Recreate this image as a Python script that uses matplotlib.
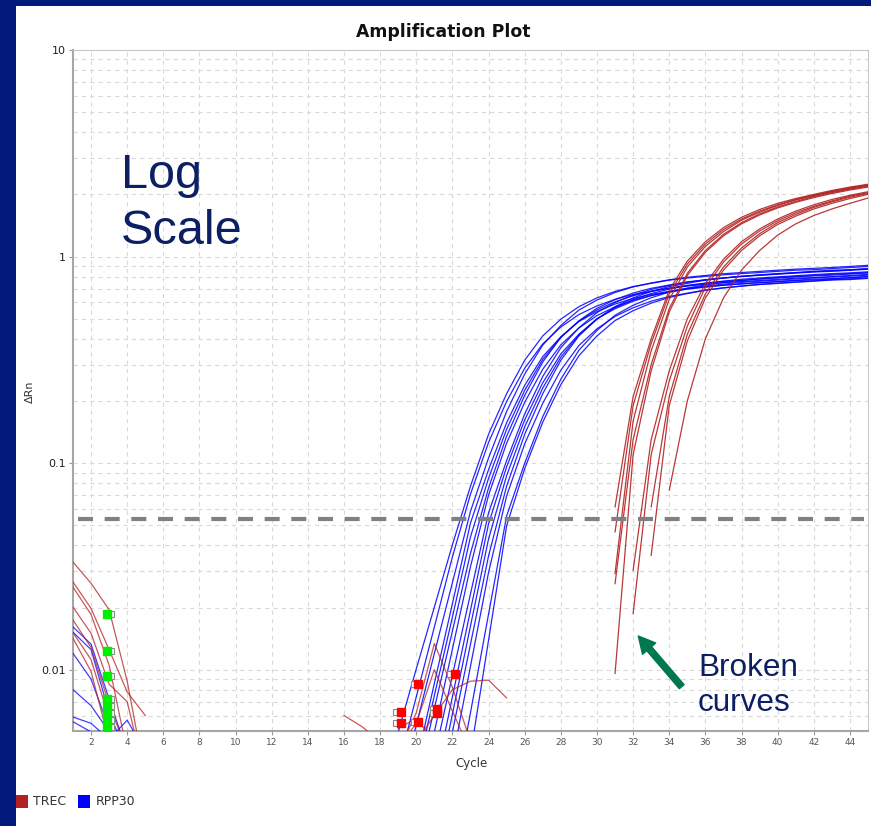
import numpy as np
import matplotlib
matplotlib.use("Agg")
from matplotlib import pyplot as plt
from matplotlib.patches import Rectangle, FancyArrowPatch

plt.rcParams['font.family'] = ['Liberation Sans', 'DejaVu Sans']
plt.rcParams['lines.scale_dashes'] = False

# RPP30 の増幅曲線 (サイクル 18〜45)
RPP30_CYCLES = list(range(18, 46))
RPP30 = [
    [.0025, .0050, .0101, .0201, .0403, .0774, .138, .217, .315, .413, .498, .572, .631, .678,
     .716, .742, .769, .787, .802, .816, .827, .837, .848, .859, .864, .875, .885, .896],
    [.0015, .0034, .0074, .0161, .0352, .0708, .126, .199, .288, .378, .456, .524, .577, .621,
     .655, .679, .703, .720, .734, .747, .757, .766, .776, .786, .791, .800, .810, .820],
    [.0011, .0025, .0054, .0120, .0264, .0585, .106, .178, .270, .373, .464, .551, .616, .670,
     .713, .745, .772, .794, .810, .826, .837, .848, .859, .869, .877, .886, .896, .907],
    [.0006, .0014, .0035, .0086, .0209, .0513, .0931, .157, .238, .328, .409, .485, .542, .589,
     .627, .656, .679, .698, .713, .727, .736, .746, .755, .765, .771, .779, .789, .798],
    [.0005, .0011, .0027, .0065, .0154, .0366, .0759, .135, .213, .309, .406, .489, .562, .619,
     .666, .702, .728, .754, .772, .787, .801, .811, .822, .832, .842, .848, .858, .868],
    [.0003, .0008, .0020, .0050, .0126, .0316, .0701, .125, .197, .285, .374, .451, .518, .571,
     .614, .648, .672, .696, .712, .727, .739, .749, .758, .768, .778, .782, .792, .802],
    [.0003, .0006, .0015, .0038, .0094, .0233, .0575, .103, .173, .263, .362, .452, .536, .599,
     .651, .693, .725, .751, .772, .788, .803, .814, .824, .835, .845, .853, .861, .872],
    [.0002, .0004, .0011, .0028, .0074, .0194, .0509, .0960, .162, .245, .338, .421, .500, .559,
     .608, .647, .676, .701, .720, .735, .750, .760, .769, .779, .789, .796, .804, .813],
    [.0001, .0003, .0007, .0019, .0050, .0133, .0356, .0774, .138, .217, .315, .413, .498, .572,
     .631, .678, .716, .742, .769, .787, .802, .816, .827, .837, .848, .859, .864, .875],
    [.0001, .0002, .0005, .0013, .0037, .0104, .0296, .0694, .124, .195, .282, .371, .447, .513,
     .565, .608, .641, .665, .689, .705, .719, .732, .741, .751, .760, .770, .774, .784],
    [.0001, .0001, .0002, .0007, .0021, .0062, .0186, .0555, .100, .168, .255, .352, .439, .520,
     .581, .632, .673, .704, .729, .750, .765, .780, .791, .801, .811, .821, .828, .836],
    [.0001, .0001, .0001, .0003, .0011, .0039, .0139, .0498, .0941, .158, .240, .331, .413, .490,
     .547, .595, .634, .662, .686, .706, .720, .734, .744, .754, .763, .773, .780, .787],
    [.0005, .0012, .0031, .0075, .0180, .0440, .0845, .146, .225, .318, .407, .487, .552, .604,
     .646, .679, .703, .726, .742, .757, .768, .778, .788, .798, .806, .813, .823, .833],
    [.0001, .0003, .0009, .0023, .0061, .0163, .0430, .0870, .150, .231, .326, .417, .499, .565,
     .619, .662, .696, .722, .744, .761, .776, .788, .798, .808, .818, .827, .834, .844],
]

# TREC の増幅曲線 (途中から始まる = 壊れた曲線)
TREC_START = [31, 31, 31, 31, 31, 32, 32, 33, 33, 34]
TREC = [
    [0.0614, 0.21, 0.40, 0.69, 0.95, 1.18, 1.38, 1.55, 1.69, 1.81, 1.91, 2.00, 2.09, 2.17, 2.24],
    [0.0465, 0.19, 0.38, 0.66, 0.92, 1.15, 1.35, 1.52, 1.66, 1.78, 1.89, 1.98, 2.07, 2.15, 2.22],
    [0.0292, 0.16, 0.35, 0.62, 0.89, 1.12, 1.32, 1.50, 1.64, 1.77, 1.88, 1.97, 2.06, 2.14, 2.21],
    [0.0261, 0.13, 0.30, 0.56, 0.83, 1.07, 1.28, 1.46, 1.61, 1.74, 1.85, 1.95, 2.04, 2.12, 2.19],
    [0.0096, 0.11, 0.28, 0.54, 0.81, 1.05, 1.26, 1.44, 1.59, 1.72, 1.83, 1.93, 2.02, 2.10, 2.17],
    [0.0303, 0.13, 0.28, 0.50, 0.74, 0.97, 1.18, 1.36, 1.52, 1.66, 1.78, 1.89, 1.98, 2.06],
    [0.0187, 0.11, 0.25, 0.46, 0.71, 0.94, 1.15, 1.33, 1.49, 1.63, 1.75, 1.86, 1.96, 2.04],
    [0.0614, 0.21, 0.42, 0.66, 0.89, 1.10, 1.29, 1.46, 1.60, 1.73, 1.84, 1.94, 2.02],
    [0.0358, 0.19, 0.39, 0.63, 0.86, 1.07, 1.26, 1.43, 1.57, 1.70, 1.81, 1.91, 2.00],
    [0.074, 0.20, 0.40, 0.63, 0.86, 1.07, 1.27, 1.44, 1.58, 1.70, 1.81, 1.92],
]

# ベースライン付近のノイズ
TREC_NOISE_X = [[1, 2, 3, 4, 5], [1, 2, 3, 4, 5], [1, 2, 3, 4], [1, 2, 3, 4, 5],
                [1, 2, 3, 4], [1, 2, 3, 4], [1, 2, 3],
                [19, 20, 21, 22, 23], [19, 20, 21, 22, 23], [20, 21, 22, 23, 24, 25],
                [19, 20, 21], [16, 17, 18]]
TREC_NOISE_Y = [[0.0332, 0.0262, 0.0195, 0.0088, 0.0030],
                [0.0266, 0.0198, 0.0125, 0.0078, 0.0060],
                [0.0251, 0.0185, 0.0105, 0.0040],
                [0.0201, 0.0150, 0.0085, 0.0070, 0.0030],
                [0.0174, 0.0128, 0.0068, 0.0040],
                [0.0151, 0.0112, 0.0058, 0.0035],
                [0.0142, 0.0098, 0.0045],
                [0.0040, 0.0062, 0.0134, 0.0082, 0.0045],
                [0.0042, 0.0055, 0.0100, 0.0063, 0.0040],
                [0.0045, 0.0060, 0.0080, 0.0088, 0.0089, 0.0073],
                [0.0052, 0.0058, 0.0045],
                [0.0060, 0.0053, 0.0045]]
RPP30_NOISE_X = [[1, 2, 3, 4], [1, 2, 3, 4], [1, 2, 3, 4], [1, 2, 3, 4],
                 [1, 2, 3, 4, 5], [1, 2, 3]]
RPP30_NOISE_Y = [[0.0161, 0.0133, 0.0072, 0.0040],
                 [0.0152, 0.0125, 0.0062, 0.0038],
                 [0.0120, 0.0090, 0.0052, 0.0035],
                 [0.0080, 0.0067, 0.0050, 0.0040],
                 [0.0059, 0.0055, 0.0046, 0.0057, 0.0040],
                 [0.0056, 0.0050, 0.0042]]

# Ct マーカー
GREEN_MARK_X = [2.86] * 8
GREEN_MARK_Y = [0.0186, 0.0123, 0.0093, 0.0072, 0.0067, 0.0062, 0.0057, 0.0053]
RED_MARK_X = [19.13, 19.13, 20.11, 20.11, 21.16, 21.16, 22.14]
RED_MARK_Y = [0.00625, 0.00553, 0.00851, 0.00556, 0.00642, 0.00614, 0.00951]

THRESHOLD = 0.0536
X_TICKS = list(range(2, 46, 2))
Y_TICKS = [0.01, 0.1, 1, 10]
Y_TICK_LABELS = ["0.01", "0.1", "1", "10"]

NAVY = "#011a7c"
TEXT_NAVY = "#0c1f63"
RED = "#b22222"
BLUE = "#0000ff"
W, H = 871, 826

fig = plt.figure(figsize=(W / 100, H / 100), dpi=100, facecolor=NAVY)
# 白いパネル (軸より奥)
fig.patches.append(Rectangle((16 / W, 0), 1 - 16 / W, 1 - 6 / H,
                             transform=fig.transFigure, facecolor="white",
                             edgecolor="none", zorder=-10))

ax = fig.add_axes([73 / W, 1 - 731 / H, (868 - 73) / W, (731 - 50) / H])
ax.set_yscale("log")

for ys in RPP30:
    ax.plot(RPP30_CYCLES, ys, color=BLUE, lw=0.9, alpha=0.85, zorder=3)
for xs, ys in zip(RPP30_NOISE_X, RPP30_NOISE_Y):
    ax.plot(xs, ys, color=BLUE, lw=0.9, alpha=0.75, zorder=3)
for s, ys in zip(TREC_START, TREC):
    ax.plot(range(s, s + len(ys)), ys, color=RED, lw=0.9, alpha=0.9, zorder=4)
for xs, ys in zip(TREC_NOISE_X, TREC_NOISE_Y):
    ax.plot(xs, ys, color=RED, lw=0.9, alpha=0.75, zorder=4)

# 閾値線
ax.plot([1.3, 44.8], [THRESHOLD, THRESHOLD], color="#808080", lw=3.0,
        dashes=(10.8, 8.4), zorder=6, solid_capstyle="butt")

# マーカー
ax.plot([x + 0.25 for x in GREEN_MARK_X], GREEN_MARK_Y, ls="none", marker="s", ms=4,
        mfc="white", mec="#8a8a8a", mew=0.8, zorder=5)
ax.plot(GREEN_MARK_X, GREEN_MARK_Y, ls="none", marker="s", ms=5.2,
        mfc="#00ee00", mec="#00ee00", zorder=5)
ax.plot([x - 0.25 for x in RED_MARK_X], RED_MARK_Y, ls="none", marker="s", ms=4,
        mfc="white", mec="#8a8a8a", mew=0.8, zorder=5)
ax.plot(RED_MARK_X, RED_MARK_Y, ls="none", marker="s", ms=5.2,
        mfc="#ff0000", mec="#ff0000", zorder=5)

# 軸と目盛
ax.set_xticks(X_TICKS)
ax.set_yticks(Y_TICKS, labels=Y_TICK_LABELS)
minor = [m * 10.0 ** k for k in range(-3, 1) for m in range(2, 10)]
ax.set_yticks(minor, minor=True)
ax.set_yticklabels([], minor=True)
# 目盛設定の後に範囲を固定
ax.set_xlim(1, 45)
ax.set_ylim(0.00505, 10)
ax.grid(True, which="both", axis="y", color="#d9d9d9", lw=0.8, linestyle=(0, (3, 3)))
ax.grid(True, which="major", axis="x", color="#d9d9d9", lw=0.8, linestyle=(0, (3, 3)))
ax.set_axisbelow(True)
ax.tick_params(axis="x", length=3, width=0.8, color="#999999", labelsize=6.5,
               labelcolor="#555555", pad=2)
ax.tick_params(axis="y", which="major", length=3, width=0.8, color="#999999",
               labelsize=8, labelcolor="#222222", pad=2)
ax.tick_params(axis="y", which="minor", length=0)
for lab in ax.get_xticklabels() + ax.get_yticklabels():
    lab.set_family("DejaVu Sans")
for side in ["left", "bottom"]:
    ax.spines[side].set_color("#a6a6a6")
    ax.spines[side].set_linewidth(1.5)
for side in ["top", "right"]:
    ax.spines[side].set_color("#c8c8c8")
    ax.spines[side].set_linewidth(0.8)

# 文字
fig.text(443.5 / W, 1 - 32 / H, "Amplification Plot", ha="center", va="center",
         fontsize=12.4, fontweight="bold", family="DejaVu Sans", color="#111111")
fig.text(30 / W, 1 - 392 / H, "ΔRn", rotation=90, ha="center", va="center",
         fontsize=8, family="DejaVu Sans", color="#333333")
fig.text(471 / W, 1 - 764 / H, "Cycle", ha="center", va="center",
         fontsize=8.5, family="DejaVu Sans", color="#333333")

fig.text(121 / W, 1 - 188 / H, "Log", ha="left", va="baseline", fontsize=35,
         color=TEXT_NAVY)
fig.text(121 / W, 1 - 244 / H, "Scale", ha="left", va="baseline", fontsize=35,
         color=TEXT_NAVY)
fig.text(698 / W, 1 - 676 / H, "Broken", ha="left", va="baseline", fontsize=22.7,
         color=TEXT_NAVY)
fig.text(698 / W, 1 - 711 / H, "curves", ha="left", va="baseline", fontsize=22.7,
         color=TEXT_NAVY)

arrow = FancyArrowPatch((681.7 / W, 1 - 686.7 / H), (638.3 / W, 1 - 636 / H),
                        transform=fig.transFigure,
                        arrowstyle="simple,head_width=1.25,head_length=1.2,tail_width=0.45",
                        mutation_scale=10, color="#00784f", shrinkA=0, shrinkB=0)
fig.patches.append(arrow)

# 凡例
fig.patches.append(Rectangle((16 / W, 1 - 808 / H), 12 / W, 13 / H,
                             transform=fig.transFigure, facecolor=RED, edgecolor="none"))
fig.text(33 / W, 1 - 801.5 / H, "TREC", ha="left", va="center", fontsize=9,
         family="DejaVu Sans", color="#333333")
fig.patches.append(Rectangle((78 / W, 1 - 808 / H), 12 / W, 13 / H,
                             transform=fig.transFigure, facecolor=BLUE, edgecolor="none"))
fig.text(96 / W, 1 - 801.5 / H, "RPP30", ha="left", va="center", fontsize=9,
         family="DejaVu Sans", color="#333333")

fig.savefig("out.png", dpi=100, facecolor=NAVY)
